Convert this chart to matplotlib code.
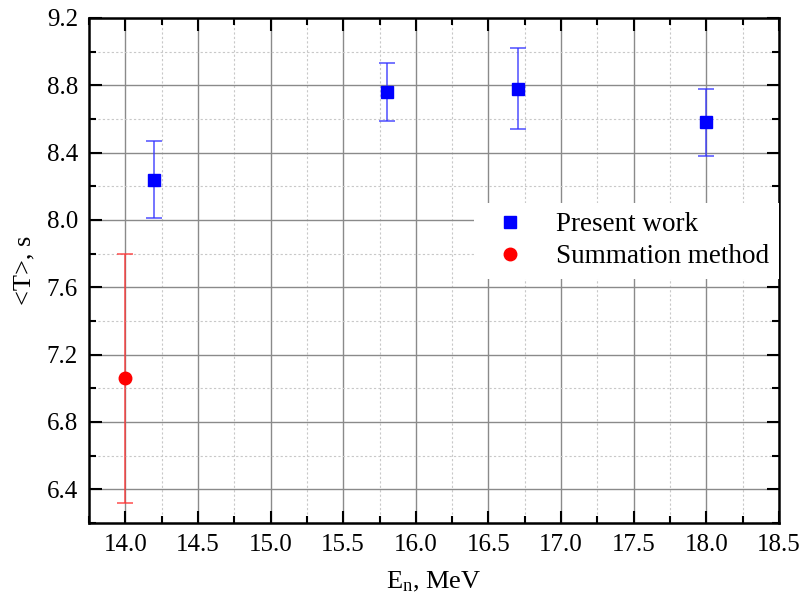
import matplotlib
matplotlib.use('Agg')
import matplotlib.pyplot as plt
from matplotlib.ticker import MultipleLocator
from matplotlib.lines import Line2D

# Present work
present_e = [14.2, 15.8, 16.7, 18.0]
present_t = [8.24, 8.76, 8.78, 8.58]
present_err = [0.23, 0.17, 0.24, 0.20]

# Summation method
summ_e = [14.0]
summ_t = [7.06]
summ_err = [0.74]

plt.rcParams['font.family'] = ['Liberation Serif', 'DejaVu Serif']
plt.rcParams['mathtext.fontset'] = 'custom'
plt.rcParams['mathtext.rm'] = 'Liberation Serif'
plt.rcParams['mathtext.it'] = 'Liberation Serif:italic'

fig = plt.figure(figsize=(8.03, 6.08), dpi=100)
ax = fig.add_axes([89 / 803, 1 - 523 / 608, 690 / 803, 505 / 608])

ax.errorbar(present_e, present_t, yerr=present_err, fmt='s', color='blue',
            ecolor=(0.2, 0.2, 1.0, 0.8), elinewidth=1.2, capsize=6, capthick=1.2,
            markersize=9, zorder=3)
ax.errorbar(summ_e, summ_t, yerr=summ_err, fmt='o', color='red',
            ecolor=(1.0, 0.2, 0.2, 0.8), elinewidth=1.2, capsize=6, capthick=1.2,
            markersize=9, zorder=3)

ax.set_xlim(13.75, 18.5)
ax.set_ylim(6.2, 9.2)
ax.xaxis.set_major_locator(MultipleLocator(0.5))
ax.xaxis.set_minor_locator(MultipleLocator(0.25))
ax.yaxis.set_major_locator(MultipleLocator(0.4))
ax.yaxis.set_minor_locator(MultipleLocator(0.2))
ax.xaxis.set_major_formatter(plt.FormatStrFormatter('%.1f'))
ax.yaxis.set_major_formatter(plt.FormatStrFormatter('%.1f'))

ax.grid(True, which='major', color='#8a8a8a', linewidth=1.0, linestyle='-')
ax.grid(True, which='minor', color='#c8c8c8', linewidth=0.8, linestyle=(0, (2, 2)))
ax.set_axisbelow(True)

ax.tick_params(which='both', direction='in', top=True, right=True, width=1.5,
               labelsize=18, pad=8)
ax.tick_params(which='major', length=9)
ax.tick_params(which='minor', length=5)
for s in ax.spines.values():
    s.set_linewidth(1.8)

ax.set_xlabel('E$_\\mathrm{n}$, MeV', fontsize=19, labelpad=10)
ax.set_ylabel('<T>, s', fontsize=19, labelpad=8)

handles = [
    Line2D([], [], marker='s', color='blue', linestyle='none', markersize=9),
    Line2D([], [], marker='o', color='red', linestyle='none', markersize=9),
]
leg = ax.legend(handles, ['Present work', 'Summation method'],
                loc='upper right', bbox_to_anchor=(1.0, 1 - 185 / 505), fontsize=19.5,
                frameon=True, fancybox=False, edgecolor='none', framealpha=1.0,
                handletextpad=0.7, borderpad=0.35, labelspacing=0.25,
                handlelength=2.0, borderaxespad=0)
leg.set_zorder(5)

fig.savefig('out.png', dpi=100)
